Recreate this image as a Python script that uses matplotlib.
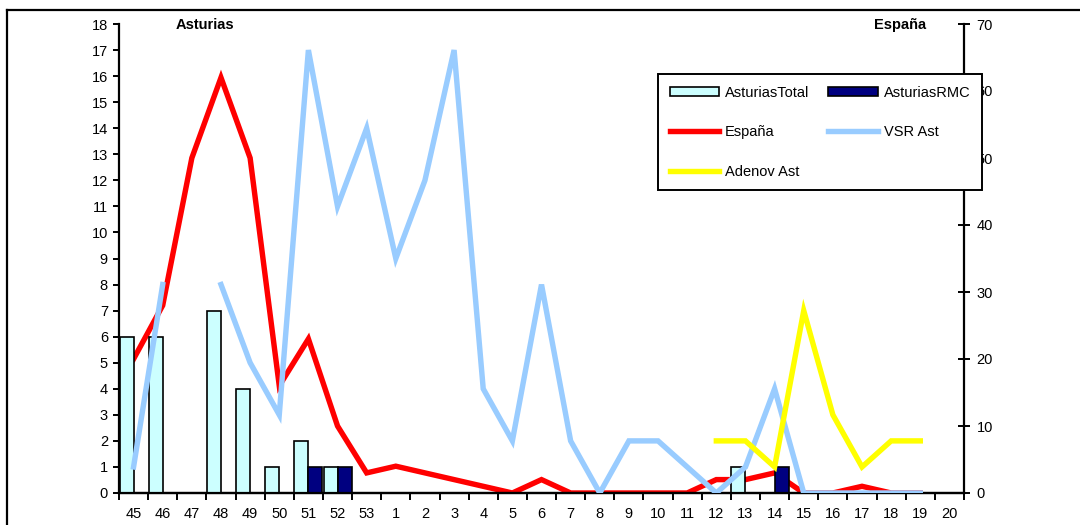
import numpy as np
import matplotlib
matplotlib.use("Agg")
import matplotlib.pyplot as plt
from matplotlib.lines import Line2D
from matplotlib.patches import Patch

plt.rcParams["font.family"] = ["Liberation Sans", "DejaVu Sans"]

nan = np.nan

# semanas epidemiologicas
semanas = ["45", "46", "47", "48", "49", "50", "51", "52", "53",
           "1", "2", "3", "4", "5", "6", "7", "8", "9", "10",
           "11", "12", "13", "14", "15", "16", "17", "18", "19", "20"]

# detecciones Asturias (eje izquierdo)
ast_total = [6, 6, 0, 7, 4, 1, 2, 1, 0,
             0, 0, 0, 0, 0, 0, 0, 0, 0, 0,
             0, 0, 1, 0, 0, 0, 0, 0, 0, 0]
ast_rmc = [0, 0, 0, 0, 0, 0, 1, 1, 0,
           0, 0, 0, 0, 0, 0, 0, 0, 0, 0,
           0, 0, 0, 1, 0, 0, 0, 0, 0, 0]
vsr_ast = [1, 8, nan, 8, 5, 3, 17, 11, 14,
           9, 12, 17, 4, 2, 8, 2, 0, 2, 2,
           1, 0, 1, 4, 0, 0, 0, 0, 0, nan]
adenov_ast = [nan, nan, nan, nan, nan, nan, nan, nan, nan,
              nan, nan, nan, nan, nan, nan, nan, nan, nan, nan,
              nan, 2, 2, 1, 7, 3, 1, 2, 2, nan]

# España (eje derecho)
espana = [20, 28, 50, 62, 50, 16, 23, 10, 3,
          4, 3, 2, 1, 0, 2, 0, 0, 0, 0,
          0, 2, 2, 3, 0, 0, 1, 0, 0, nan]

W, H = 1080, 525
fig = plt.figure(figsize=(W / 100, H / 100), dpi=100)

# marco del grafico
fig.add_artist(Line2D([7 / W, 7 / W], [0, 1 - 10 / H], color="black", lw=1.6,
                      transform=fig.transFigure))
fig.add_artist(Line2D([7 / W, 1], [1 - 10 / H, 1 - 10 / H], color="black", lw=1.6,
                      transform=fig.transFigure))

left, right = 119 / W, 964 / W
bottom, top = 1 - 493 / H, 1 - 24 / H
ax1 = fig.add_axes([left, bottom, right - left, top - bottom])
ax2 = ax1.twinx()
ax1.set_zorder(ax2.get_zorder() + 1)
ax1.patch.set_visible(False)

x = np.arange(len(semanas))
bw = 0.48
ax1.bar(x - bw / 2, ast_total, width=bw, color="#CCFFFF", edgecolor="black",
        linewidth=1.2, zorder=2)
ax1.bar(x + bw / 2, ast_rmc, width=bw, color="#000080", edgecolor="black",
        linewidth=1.2, zorder=2)
ax1.plot(x, vsr_ast, color="#99CCFF", lw=3.9, zorder=3, solid_joinstyle="miter")
ax1.plot(x, adenov_ast, color="#FFFF00", lw=3.9, zorder=4, solid_joinstyle="miter")
ax2.plot(x, espana, color="#FF0000", lw=3.9, solid_joinstyle="miter")

ax1.set_xlim(-0.5, len(semanas) - 0.5)
ax1.set_ylim(0, 18)
ax2.set_ylim(0, 70)
ax1.set_yticks(range(0, 19))
ax2.set_yticks(range(0, 71, 10))

# ticks entre categorias, etiquetas en el centro
ax1.set_xticks(np.arange(-0.5, len(semanas), 1))
ax1.set_xticklabels([])
ax1.set_xticks(x, minor=True)
ax1.set_xticklabels(semanas, minor=True)
ax1.tick_params(axis="x", which="major", direction="out", length=5, width=1.4)
ax1.tick_params(axis="x", which="minor", length=0, pad=10, labelsize=10.5)
ax1.tick_params(axis="y", direction="out", length=4, width=1.4, labelsize=10.5, pad=4)
ax2.tick_params(axis="y", direction="inout", length=8, width=1.4, labelsize=10.5, pad=5)

for ax in (ax1, ax2):
    ax.spines["top"].set_visible(False)
    for s in ("left", "right", "bottom"):
        ax.spines[s].set_linewidth(1.6)
ax1.spines["right"].set_visible(False)
ax2.spines["left"].set_visible(False)

fig.text(205 / W, 1 - 25 / H, "Asturias", fontsize=10.5, fontweight="bold",
         ha="center", va="center")
fig.text(900 / W, 1 - 25 / H, "España", fontsize=10.5, fontweight="bold",
         ha="center", va="center")

handles = [
    Patch(facecolor="#CCFFFF", edgecolor="black", linewidth=1.2),
    Line2D([], [], color="#FF0000", lw=3.9),
    Line2D([], [], color="#FFFF00", lw=3.9),
    Patch(facecolor="#000080", edgecolor="black", linewidth=1.2),
    Line2D([], [], color="#99CCFF", lw=3.9),
]
labels = ["AsturiasTotal", "España", "Adenov Ast", "AsturiasRMC", "VSR Ast"]
leg = ax1.legend(handles, labels, ncol=2, loc="upper left",
                 bbox_to_anchor=(658 / W, 1 - 74 / H), bbox_transform=fig.transFigure,
                 fontsize=10.5, frameon=True, fancybox=False, framealpha=1,
                 edgecolor="black", handlelength=3.4, handleheight=0.55,
                 handletextpad=0.4, labelspacing=1.75, columnspacing=1.3,
                 borderpad=0.8, borderaxespad=0)
leg.get_frame().set_linewidth(1.4)

fig.savefig("out.png", dpi=100)
